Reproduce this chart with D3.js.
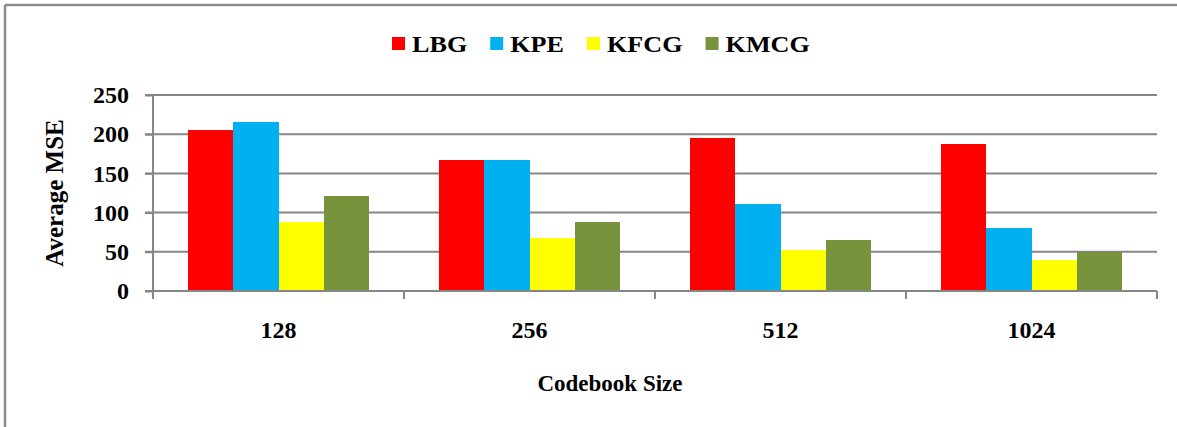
<!DOCTYPE html>
<html><head><meta charset="utf-8">
<script src="https://cdn.jsdelivr.net/npm/d3@7"></script>
<style>html,body{margin:0;padding:0;background:#fff;}svg{display:block;}</style>
</head><body>
<svg id="chart" width="1177" height="427"></svg>
<script>
const categories = ["128", "256", "512", "1024"];
const seriesNames = ["LBG", "KPE", "KFCG", "KMCG"];
const LBG  = [205, 167, 195, 187];
const KPE  = [215, 167, 111, 80];
const KFCG = [88, 68, 52, 39];
const KMCG = [121, 88, 65, 50];
const yTicks = [0, 50, 100, 150, 200, 250];
const colors = ["#FF0000", "#00B0F0", "#FFFF00", "#77933C"];

(function () {
const seriesValues = [LBG, KPE, KFCG, KMCG];
const svg = d3.select("#chart");
const font = "'Liberation Serif','Times New Roman',serif";
const gridColor = "#868686";

// frame
svg.append("line").attr("x1",5).attr("x2",1177).attr("y1",5).attr("y2",5).attr("stroke","#8c8c8c").attr("stroke-width",2.5);
svg.append("line").attr("x1",5).attr("x2",5).attr("y1",5).attr("y2",427).attr("stroke","#8c8c8c").attr("stroke-width",2.5);

const pLeft = 153, pRight = 1157, pTop = 95, pBottom = 291;
const x = d3.scaleBand().domain(categories).range([pLeft, pRight]).paddingInner(0.275).paddingOuter(0.1375);
const xs = d3.scaleBand().domain(seriesNames).range([0, x.bandwidth()]);
const y = d3.scaleLinear().domain([0, 250]).range([pBottom, pTop]);

// gridlines
svg.append("g").selectAll("line").data(yTicks.filter(t => t > 0)).join("line")
  .attr("x1", pLeft - 8).attr("x2", pRight).attr("y1", d => y(d)).attr("y2", d => y(d))
  .attr("stroke", gridColor).attr("stroke-width", 2);

// bars
const data = [];
categories.forEach((c, i) => seriesNames.forEach((s, j) => data.push({c, s, v: seriesValues[j][i], color: colors[j]})));
svg.append("g").selectAll("rect").data(data).join("rect")
  .attr("x", d => x(d.c) + xs(d.s)).attr("width", xs.bandwidth())
  .attr("y", d => y(d.v)).attr("height", d => y(0) - y(d.v))
  .attr("fill", d => d.color).attr("shape-rendering","crispEdges");

// y axis
const yAxis = d3.axisLeft(y).tickValues(yTicks).tickSize(8).tickPadding(16);
const gy = svg.append("g").attr("transform", `translate(${pLeft},0)`).call(yAxis);
gy.select(".domain").attr("stroke", gridColor).attr("stroke-width", 2).attr("d", `M0,${pTop}V${pBottom}`);
gy.selectAll(".tick line").attr("stroke", gridColor).attr("stroke-width", 2);
gy.selectAll(".tick text").attr("font-family", font).attr("font-weight","bold").attr("font-size", 24).attr("fill","#000");

// x axis
const xAxis = d3.axisBottom(x).tickSize(0).tickPadding(30);
const gx = svg.append("g").attr("transform", `translate(0,${pBottom})`).call(xAxis);
gx.select(".domain").attr("stroke", gridColor).attr("stroke-width", 2).attr("d", `M${pLeft-8},0H${pRight}`);
gx.selectAll(".tick text").attr("font-family", font).attr("font-weight","bold").attr("font-size", 24).attr("fill","#000");
const step = x.step();
const bounds = d3.range(categories.length + 1).map(i => pLeft + i * step);
gx.append("g").selectAll("line").data(bounds).join("line")
  .attr("x1", d => d).attr("x2", d => d).attr("y1", 0).attr("y2", 8)
  .attr("stroke", gridColor).attr("stroke-width", 2);

// axis titles
svg.append("text").attr("x", 610).attr("y", 391).attr("text-anchor","middle")
  .attr("font-family", font).attr("font-weight","bold").attr("font-size", 23).text("Codebook Size");
svg.append("text").attr("transform", `translate(63,${(pTop+pBottom)/2}) rotate(-90)`).attr("text-anchor","middle")
  .attr("font-family", font).attr("font-weight","bold").attr("font-size", 25).text("Average MSE");

// legend
const lg = svg.append("g");
const sx = 1.09;
let lx = 392;
seriesNames.forEach((s, j) => {
  lg.append("rect").attr("x", lx).attr("y", 37).attr("width", 13).attr("height", 13).attr("fill", colors[j]);
  const t = lg.append("text").attr("transform", `translate(${lx + 20},52) scale(${sx},1)`)
    .attr("font-family", font).attr("font-weight","bold").attr("font-size", 24).text(s);
  lx += 20 + t.node().getComputedTextLength() * sx + 23;
});
})();
</script>
</body></html>
